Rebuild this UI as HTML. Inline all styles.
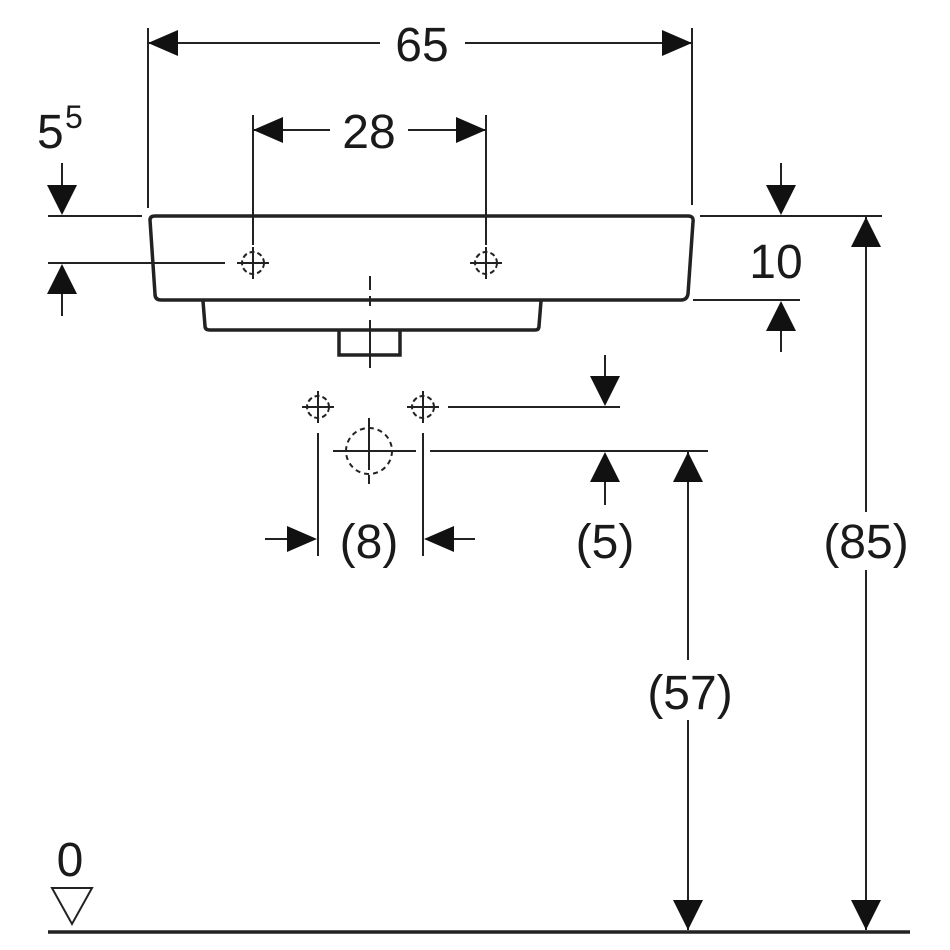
<!DOCTYPE html>
<html><head><meta charset="utf-8"><style>
html,body{margin:0;padding:0;background:#fff;}
svg{display:block;}
text{font-family:"Liberation Sans",sans-serif;font-size:48px;fill:#1a1a1a;}
</style></head><body>
<svg width="950" height="950" viewBox="0 0 950 950" xmlns="http://www.w3.org/2000/svg">
<defs>
<g id="hole" fill="none" stroke="#222" stroke-width="2">
<circle r="11" stroke-dasharray="5 3"/>
<line x1="-16" y1="0" x2="16" y2="0"/><line x1="0" y1="-16" x2="0" y2="16"/>
</g>
</defs>
<g stroke="#222" stroke-width="2" fill="none">
<path d="M150 220 Q150 216 155 216 L688 216 Q694 216 693 222 L688 294 Q687 300 681 300 L161 300 Q155 300 155 294 Z" stroke-width="3.5"/>
<path d="M203 301 L205 326 Q205 330 210 330 L535 330 Q539 330 539 326 L541 301" stroke-width="3.5"/>
<path d="M339 331 L339 355 L400 355 L400 331" stroke-width="3.5"/>
<line x1="370" y1="276" x2="370" y2="290"/>
<line x1="370" y1="296" x2="370" y2="306"/>
<line x1="370" y1="320" x2="370" y2="368"/>
<line x1="148" y1="28" x2="148" y2="208"/>
<line x1="692" y1="28" x2="692" y2="205"/>
<line x1="148" y1="43" x2="380" y2="43"/>
<line x1="465" y1="43" x2="692" y2="43"/>
<line x1="253" y1="115" x2="253" y2="245"/>
<line x1="486" y1="115" x2="486" y2="245"/>
<line x1="253" y1="130" x2="330" y2="130"/>
<line x1="408" y1="130" x2="486" y2="130"/>
<line x1="48" y1="216" x2="142" y2="216"/>
<line x1="48" y1="263" x2="225" y2="263"/>
<line x1="62" y1="163" x2="62" y2="190"/>
<line x1="62" y1="290" x2="62" y2="316"/>
<line x1="700" y1="216" x2="882" y2="216"/>
<line x1="693" y1="300" x2="800" y2="300"/>
<line x1="781" y1="163" x2="781" y2="190"/>
<line x1="781" y1="328" x2="781" y2="352"/>
<line x1="866" y1="216" x2="866" y2="512"/>
<line x1="866" y1="570" x2="866" y2="930"/>
<line x1="448" y1="407" x2="620" y2="407"/>
<line x1="430" y1="451" x2="708" y2="451"/>
<line x1="605" y1="355" x2="605" y2="380"/>
<line x1="605" y1="478" x2="605" y2="505"/>
<line x1="688" y1="451" x2="688" y2="660"/>
<line x1="688" y1="720" x2="688" y2="930"/>
<line x1="318" y1="433" x2="318" y2="556"/>
<line x1="423" y1="433" x2="423" y2="556"/>
<line x1="265" y1="539" x2="290" y2="539"/>
<line x1="450" y1="539" x2="475" y2="539"/>
<line x1="333" y1="451" x2="416" y2="451"/>
<line x1="369" y1="418" x2="369" y2="470"/>
<line x1="369" y1="475" x2="369" y2="484"/>
<circle cx="369" cy="451" r="23" stroke-dasharray="5 4"/>
<line x1="48" y1="932" x2="910" y2="932" stroke-width="3.5"/>
<path d="M52 888 L92 888 L72 924 Z"/>
</g>
<use href="#hole" x="253" y="263"/>
<use href="#hole" x="486" y="263"/>
<use href="#hole" x="318" y="407"/>
<use href="#hole" x="423" y="407"/>
<g fill="#111">
<path d="M148 43 L178 30 L178 56 Z"/>
<path d="M692 43 L662 30 L662 56 Z"/>
<path d="M253 130 L283 117 L283 143 Z"/>
<path d="M486 130 L456 117 L456 143 Z"/>
<path d="M62 215 L47 185 L77 185 Z"/>
<path d="M62 264 L47 294 L77 294 Z"/>
<path d="M781 215 L766 185 L796 185 Z"/>
<path d="M781 301 L766 331 L796 331 Z"/>
<path d="M866 217 L851 247 L881 247 Z"/>
<path d="M866 930 L851 900 L881 900 Z"/>
<path d="M605 406 L590 376 L620 376 Z"/>
<path d="M605 452 L590 482 L620 482 Z"/>
<path d="M688 452 L673 482 L703 482 Z"/>
<path d="M688 930 L673 900 L703 900 Z"/>
<path d="M317 539 L287 526 L287 552 Z"/>
<path d="M424 539 L454 526 L454 552 Z"/>
</g>
<text x="422" y="61" text-anchor="middle">65</text>
<text x="369" y="148" text-anchor="middle">28</text>
<text x="37" y="148">5</text>
<text x="65" y="128" style="font-size:32px">5</text>
<text x="776" y="278" text-anchor="middle">10</text>
<text x="866" y="558" text-anchor="middle">(85)</text>
<text x="690" y="709" text-anchor="middle">(57)</text>
<text x="605" y="558" text-anchor="middle">(5)</text>
<text x="369" y="558" text-anchor="middle">(8)</text>
<text x="70" y="876" text-anchor="middle">0</text>
</svg>
</body></html>
